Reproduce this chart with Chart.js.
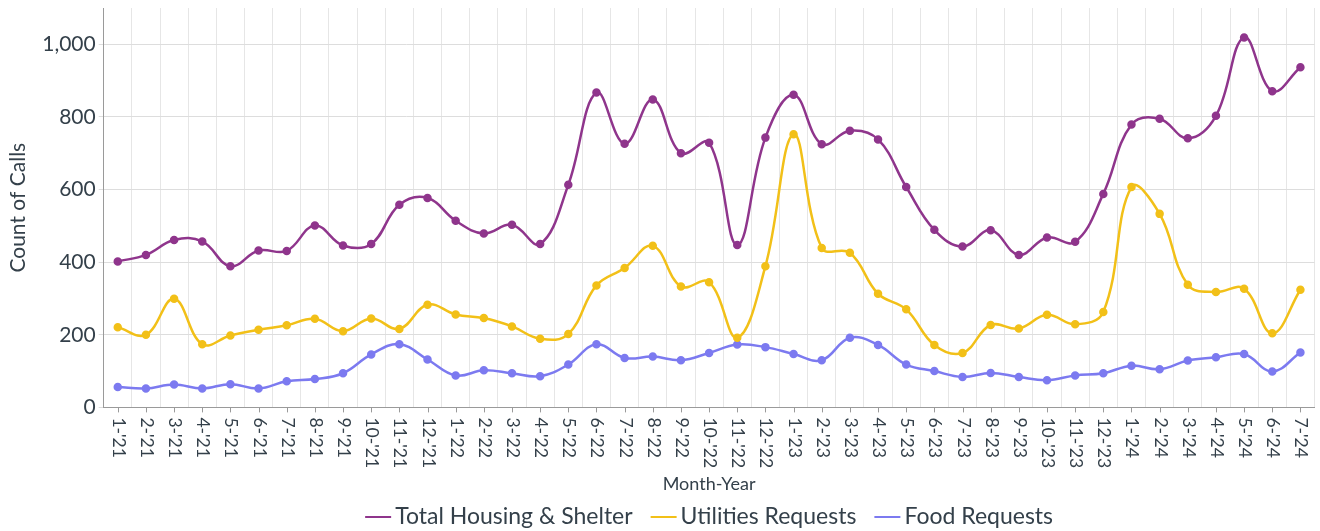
<!DOCTYPE html>
<html>
<head>
<meta charset="utf-8">
<script src="https://cdn.jsdelivr.net/npm/chart.js@4"></script>
<style>
    html, body { margin: 0; padding: 0; background: #ffffff; }
    #wrap { width: 1320px; height: 531px; }
</style>
</head>
<body>
<div id="wrap"><canvas id="callsChart" width="1320" height="531"></canvas></div>
<script>
// Month-Year categories
const months = [
    "1-'21", "2-'21", "3-'21", "4-'21", "5-'21", "6-'21", "7-'21", "8-'21", "9-'21", "10-'21", "11-'21", "12-'21",
    "1-'22", "2-'22", "3-'22", "4-'22", "5-'22", "6-'22", "7-'22", "8-'22", "9-'22", "10-'22", "11-'22", "12-'22",
    "1-'23", "2-'23", "3-'23", "4-'23", "5-'23", "6-'23", "7-'23", "8-'23", "9-'23", "10-'23", "11-'23", "12-'23",
    "1-'24", "2-'24", "3-'24", "4-'24", "5-'24", "6-'24", "7-'24"
];

const housingCalls = [
    402, 420, 461, 457, 389, 432, 431, 501, 446, 450, 558, 577,
    514, 479, 503, 450, 613, 867, 726, 848, 700, 729, 447, 743,
    861, 725, 762, 738, 607, 489, 443, 488, 420, 468, 456, 588,
    779, 795, 741, 803, 1019, 871, 937
];

const utilitiesCalls = [
    221, 200, 299, 174, 198, 214, 226, 244, 210, 245, 216, 283,
    256, 246, 223, 189, 202, 336, 384, 445, 333, 345, 192, 389,
    752, 439, 426, 313, 270, 172, 150, 227, 217, 255, 229, 263,
    607, 533, 338, 318, 327, 204, 324
];

const foodCalls = [
    56, 52, 63, 52, 64, 52, 72, 78, 94, 146, 174, 132,
    88, 102, 94, 86, 118, 174, 136, 140, 130, 150, 173, 166,
    147, 130, 192, 172, 118, 100, 84, 95, 84, 75, 88, 94,
    115, 105, 129, 138, 147, 99, 151
];

const yTicks = [0, 200, 400, 600, 800, 1000];

const textColor = '#34404a';

// x labels are turned clockwise (read top to bottom), so draw them by hand
const rotatedLabels = {
    id: 'rotatedLabels',
    afterDraw(chart) {
        const ctx = chart.ctx;
        const xScale = chart.scales.x;
        const base = chart.chartArea.bottom;
        ctx.save();
        ctx.strokeStyle = '#9a9a9a';
        ctx.lineWidth = 1;
        ctx.fillStyle = textColor;
        ctx.font = '17.5px Lato';
        ctx.textAlign = 'left';
        ctx.textBaseline = 'middle';
        months.forEach((m, i) => {
            const x = Math.round(xScale.getPixelForTick(i)) + 0.5;
            ctx.beginPath();
            ctx.moveTo(x, base);
            ctx.lineTo(x, base + 5);
            ctx.stroke();
            ctx.save();
            ctx.translate(x, base + 10);
            ctx.rotate(Math.PI / 2);
            ctx.fillText(m, 0, 0);
            ctx.restore();
        });
        ctx.restore();
    }
};

// legend with a short line right next to each name
const lineLegend = {
    id: 'lineLegend',
    afterDraw(chart) {
        const ctx = chart.ctx;
        const sets = chart.data.datasets;
        const lineW = 26, gap = 4, spacing = 18, y = 517;
        ctx.save();
        ctx.font = '23px Lato';
        ctx.textBaseline = 'middle';
        ctx.textAlign = 'left';
        const widths = sets.map(d => lineW + gap + ctx.measureText(d.label).width);
        const total = widths.reduce((a, b) => a + b, 0) + spacing * (sets.length - 1);
        let x = (chart.chartArea.left + chart.chartArea.right) / 2 - total / 2;
        sets.forEach((d, i) => {
            ctx.strokeStyle = d.borderColor;
            ctx.lineWidth = 2;
            ctx.beginPath();
            ctx.moveTo(x, y);
            ctx.lineTo(x + lineW, y);
            ctx.stroke();
            ctx.fillStyle = textColor;
            ctx.fillText(d.label, x + lineW + gap, y);
            x += widths[i] + spacing;
        });
        ctx.restore();
    }
};

function series(label, data, color) {
    return {
        label: label,
        data: data,
        borderColor: color,
        backgroundColor: color,
        pointBackgroundColor: color,
        pointBorderColor: color,
        pointRadius: 3,
        pointHoverRadius: 3,
        borderWidth: 2.5,
        tension: 0.4,
        fill: false
    };
}

const ctx = document.getElementById('callsChart').getContext('2d');
new Chart(ctx, {
    type: 'line',
    data: {
        labels: months,
        datasets: [
            series('Total Housing & Shelter', housingCalls, '#8f358c'),
            series('Utilities Requests', utilitiesCalls, '#f2c018'),
            series('Food Requests', foodCalls, '#7c7af0')
        ]
    },
    plugins: [rotatedLabels, lineLegend],
    options: {
        responsive: false,
        animation: false,
        layout: { padding: { top: 8, right: 3, left: 6, bottom: 30 } },
        plugins: {
            legend: { display: false },
            tooltip: { enabled: false }
        },
        scales: {
            x: {
                offset: true,
                grid: {
                    offset: true,
                    color: '#e6e6e6',
                    drawTicks: false
                },
                border: { color: '#9a9a9a' },
                ticks: { display: false },
                title: {
                    display: true,
                    text: 'Month-Year',
                    color: textColor,
                    font: { family: 'Lato', size: 18 },
                    padding: { top: 66, bottom: 6 }
                }
            },
            y: {
                min: 0,
                max: 1100,
                grid: { color: '#dddddd', tickLength: 5 },
                border: { color: '#9a9a9a' },
                afterBuildTicks(scale) {
                    scale.ticks = yTicks.map(v => ({ value: v }));
                },
                afterFit(scale) {
                    scale.paddingTop = 0;
                    scale.paddingBottom = 0;
                },
                ticks: {
                    color: textColor,
                    font: { family: 'Lato', size: 21 },
                    padding: 3,
                    callback: v => v.toLocaleString('en-US')
                },
                title: {
                    display: true,
                    text: 'Count of Calls',
                    color: textColor,
                    font: { family: 'Lato', size: 21 },
                    padding: { top: 0, bottom: 8 }
                }
            }
        }
    }
});
</script>
</body>
</html>
